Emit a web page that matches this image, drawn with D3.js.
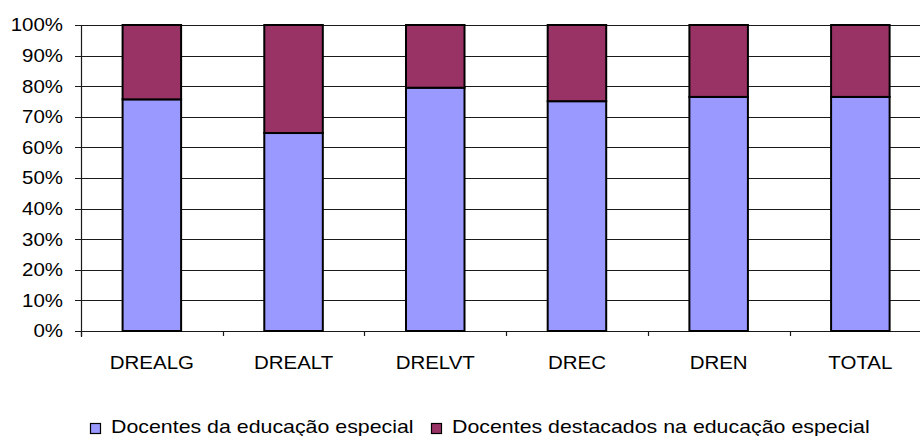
<!DOCTYPE html>
<html>
<head>
<meta charset="utf-8">
<script src="https://cdn.jsdelivr.net/npm/d3@7"></script>
<style>
  html, body { margin: 0; padding: 0; background: #fff; }
  svg { display: block; }
  text { font-family: "Liberation Sans", Arial, sans-serif; fill: #000; }
</style>
</head>
<body>
<svg id="chart" width="920" height="436"></svg>
<script>
// Regions and the share of teachers in each group
const categories = ["DREALG", "DREALT", "DRELVT", "DREC", "DREN", "TOTAL"];
const especial   = [0.757, 0.647, 0.795, 0.751, 0.765, 0.765];
const destacados = especial.map(v => 1 - v);
const seriesNames = ["Docentes da educação especial", "Docentes destacados na educação especial"];
const seriesColors = ["#9999FF", "#993366"];
const yTicks = [0, 0.1, 0.2, 0.3, 0.4, 0.5, 0.6, 0.7, 0.8, 0.9, 1.0];

const svg = d3.select("#chart");
const W = 920;
const plotLeft = 81, plotTop = 25, plotBottom = 331;
const step = 141.7;
const stretch = 1.17;

const x = d3.scaleBand()
  .domain(categories)
  .range([plotLeft, plotLeft + step * categories.length])
  .paddingInner(0.587)
  .paddingOuter(0.587 / 2);

const y = d3.scaleLinear().domain([0, 1]).range([plotBottom, plotTop]);

// horizontal gridlines with left tick marks
svg.append("g").selectAll("line")
  .data(yTicks)
  .join("line")
  .attr("x1", plotLeft - 6).attr("x2", W)
  .attr("y1", d => Math.round(y(d)) + 0.5).attr("y2", d => Math.round(y(d)) + 0.5)
  .attr("stroke", "#1a1a1a").attr("stroke-width", 1.2);

// y tick labels
svg.append("g").selectAll("text")
  .data(yTicks)
  .join("text")
  .attr("transform", d => `translate(63,${y(d) + 6.3}) scale(${stretch},1)`)
  .attr("text-anchor", "end")
  .style("font-size", "17.5px")
  .text(d => d3.format(".0%")(d));

// vertical axis line
svg.append("line")
  .attr("x1", plotLeft + 0.5).attr("x2", plotLeft + 0.5)
  .attr("y1", plotTop).attr("y2", plotBottom + 6)
  .attr("stroke", "#1a1a1a").attr("stroke-width", 1.2);

// category boundary ticks below the baseline
const boundaries = d3.range(categories.length + 1).map(i => plotLeft + i * x.step());
svg.append("g").selectAll("line")
  .data(boundaries)
  .join("line")
  .attr("x1", d => Math.round(d) + 0.5).attr("x2", d => Math.round(d) + 0.5)
  .attr("y1", plotBottom).attr("y2", plotBottom + 5)
  .attr("stroke", "#1a1a1a").attr("stroke-width", 1.2);

// stacked bars
const stackData = categories.map((c, i) => ({ cat: c, a: especial[i], b: destacados[i] }));
const stacked = d3.stack().keys(["a", "b"])(stackData);

svg.append("g").selectAll("g")
  .data(stacked)
  .join("g")
  .attr("fill", (d, i) => seriesColors[i])
  .selectAll("rect")
  .data(d => d)
  .join("rect")
  .attr("x", d => x(d.data.cat))
  .attr("width", x.bandwidth())
  .attr("y", d => y(d[1]))
  .attr("height", d => y(d[0]) - y(d[1]))
  .attr("stroke", "#000")
  .attr("stroke-width", 2);

// category labels
svg.append("g").selectAll("text")
  .data(categories)
  .join("text")
  .attr("transform", d => `translate(${x(d) + x.bandwidth() / 2},369) scale(${stretch},1)`)
  .attr("text-anchor", "middle")
  .style("font-size", "17.5px")
  .text(d => d);

// legend
const legendX = [90, 431];
const legend = svg.append("g").selectAll("g")
  .data(seriesNames)
  .join("g")
  .attr("transform", (d, i) => `translate(${legendX[i]},0)`);

legend.append("rect")
  .attr("x", 0.5).attr("y", 423.5)
  .attr("width", 10).attr("height", 10)
  .attr("fill", (d, i) => seriesColors[i])
  .attr("stroke", "#000").attr("stroke-width", 1.2);

legend.append("text")
  .attr("transform", `translate(21,433.3) scale(1.22,1)`)
  .style("font-size", "17.5px")
  .text(d => d);
</script>
</body>
</html>
